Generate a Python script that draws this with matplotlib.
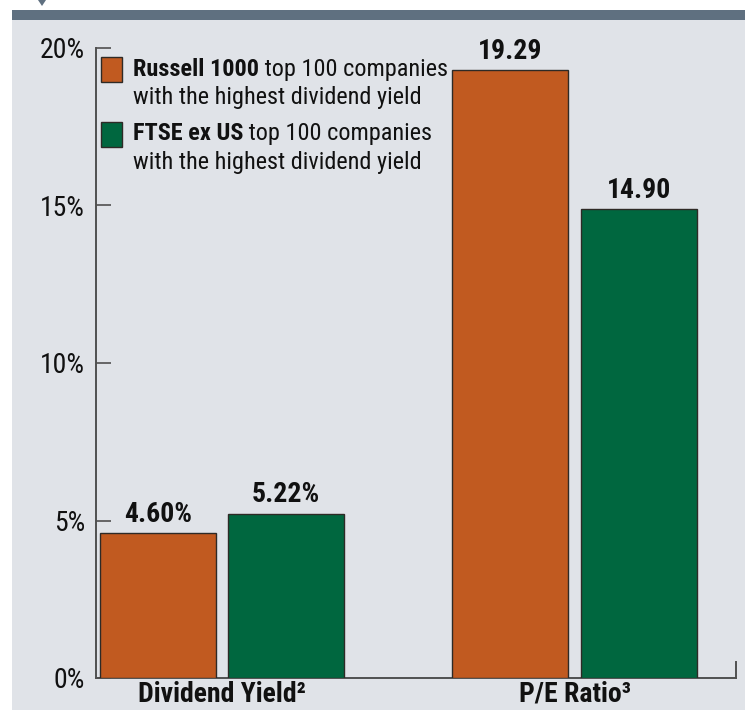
import matplotlib
matplotlib.use("Agg")
import matplotlib.pyplot as plt
from matplotlib.patches import Rectangle, Polygon
import numpy as np

# ---- data ----
categories = ["Dividend Yield\u00b2", "P/E Ratio\u00b3"]
russell_vals = [4.60, 19.29]
ftse_vals = [5.22, 14.90]
russell_labels = ["4.60%", "19.29"]
ftse_labels = ["5.22%", "14.90"]
yticks = [0, 5, 10, 15, 20]
ytick_labels = ["0%", "5%", "10%", "15%", "20%"]
legend_bold = ["Russell 1000", "FTSE ex US"]
legend_rest = [" top 100 companies", " top 100 companies"]
legend_line2 = "with the highest dividend yield"

# ---- style ----
FONT = ["Roboto Condensed", "DejaVu Sans"]
plt.rcParams["font.family"] = FONT
ORANGE = "#C15A20"
GREEN = "#00673F"
BG = "#E0E3E8"
BAND = "#5F7080"
SPINE = "#505050"
EDGE = "#2e2a26"
TXT = "#111111"

W, H = 745, 710
fig = plt.figure(figsize=(W / 100, H / 100), dpi=100)
fig.patch.set_facecolor("white")
# background panel
fig.patches.append(Rectangle((12 / W, 0), 1 - 12 / W, 1 - 20 / H, transform=fig.transFigure,
                             facecolor=BG, edgecolor="none", zorder=-10))
fig.patches.append(Rectangle((12 / W, 1 - 20 / H), 1 - 12 / W, 10 / H, transform=fig.transFigure,
                             facecolor=BAND, edgecolor="none", zorder=-9))
fig.patches.append(Polygon([(38 / W, 1), (46 / W, 1), (42 / W, 1 - 6 / H)], closed=True,
                           transform=fig.transFigure, facecolor=BAND, edgecolor="none", zorder=-9))

ax = fig.add_axes([96 / W, 1 - 678 / H, 640 / W, 630 / H])
ax.set_facecolor("none")

x = np.arange(len(categories))
bw = 0.329
off = 0.1816
b1 = ax.bar(x - off, russell_vals, bw, color=ORANGE, edgecolor=EDGE, linewidth=1.0, zorder=3)
b2 = ax.bar(x + off, ftse_vals, bw, color=GREEN, edgecolor=EDGE, linewidth=1.0, zorder=3)

for bars, labels in ((b1, russell_labels), (b2, ftse_labels)):
    for r, lab in zip(bars, labels):
        ax.annotate(lab, xy=(r.get_x() + r.get_width() / 2, r.get_height()),
                    xytext=(0, 8), textcoords="offset points", ha="center", va="baseline",
                    fontsize=20, fontweight="bold", color=TXT)

ax.set_xlim(-0.357, 1.458)
ax.set_ylim(0, 20)
ax.set_yticks(yticks)
ax.set_yticklabels(ytick_labels)
ax.set_xticks(x)
ax.set_xticklabels(categories, fontsize=20, fontweight="bold", color=TXT)
ax.tick_params(axis="x", length=0, pad=2)
ax.tick_params(axis="y", direction="in", length=11, width=1.2, color=SPINE, pad=8,
               labelsize=20, labelcolor=TXT)

ax.spines["top"].set_visible(False)
for s in ("left", "bottom", "right"):
    ax.spines[s].set_color(SPINE)
    ax.spines[s].set_linewidth(1.4)
ax.spines["right"].set_bounds(0, 0.5)

# ---- legend (manual, mixed bold) ----
colors = [ORANGE, GREEN]
sq_bottoms = [(678 - 82) / 630, (678 - 147) / 630]
baselines = [((678 - 76) / 630, (678 - 104) / 630), ((678 - 140) / 630, (678 - 169) / 630)]
for i in range(2):
    ax.add_patch(Rectangle((5 / 640, sq_bottoms[i]), 21 / 640, 25 / 630, transform=ax.transAxes,
                           facecolor=colors[i], edgecolor=EDGE, linewidth=1.0, zorder=4,
                           clip_on=False))
    t = ax.text(37 / 640, baselines[i][0], legend_bold[i], transform=ax.transAxes,
                fontsize=17.5, fontweight="bold", va="baseline", ha="left", color=TXT)
    ax.annotate(legend_rest[i], xy=(1, 0), xycoords=t, va="bottom", ha="left",
                fontsize=17.5, color=TXT)
    ax.text(37 / 640, baselines[i][1], legend_line2, transform=ax.transAxes,
            fontsize=17.5, va="baseline", ha="left", color=TXT)

fig.savefig("out.png", dpi=100, facecolor=fig.get_facecolor())
